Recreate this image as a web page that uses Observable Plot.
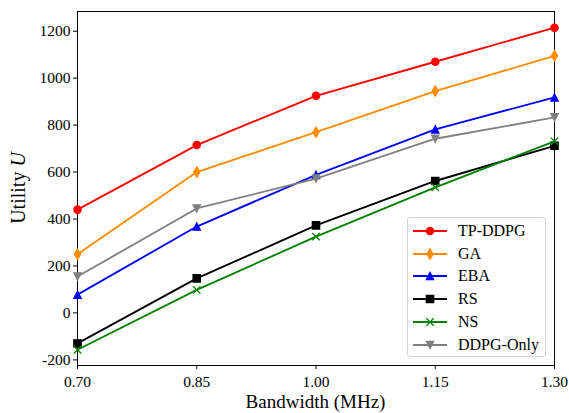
<!DOCTYPE html>
<html>
<head>
<meta charset="utf-8">
<script src="https://cdn.jsdelivr.net/npm/d3@7"></script>
<script src="https://cdn.jsdelivr.net/npm/@observablehq/plot@0.6"></script>
<style>
  body { margin: 0; background: #fff; }
  #wrap { position: relative; width: 569px; height: 413px; font-family: 'Liberation Serif', 'DejaVu Serif', serif; }
  #wrap svg text { font-family: 'Liberation Serif', 'DejaVu Serif', serif; }
  #legend { position: absolute; left: 407px; top: 217px; width: 137px; height: 138px;
            border: 1px solid #d3d3d3; border-radius: 3px; background: rgba(255,255,255,0.8); }
  .row { position: absolute; left: 0; height: 22px; width: 137px; }
  .row svg { position: absolute; left: 0; top: 0; }
  .row span { position: absolute; left: 50px; top: 1px; font-family: 'Liberation Serif', 'DejaVu Serif', serif; font-size: 16px; line-height: 20px; color: #000; white-space: nowrap; }
</style>
</head>
<body>
<div id="wrap"></div>
<script>
// ---- data ----
const bandwidth = [0.70, 0.85, 1.00, 1.15, 1.30];
const seriesNames = ["TP-DDPG", "GA", "EBA", "RS", "NS", "DDPG-Only"];
const seriesColors = ["#ff0000", "#ff8c00", "#0000ff", "#000000", "#008000", "#808080"];
const tpddpg   = [440, 715, 925, 1070, 1215];
const ga       = [250, 600, 770, 945, 1095];
const eba      = [78, 368, 588, 782, 918];
const rs       = [-130, 147, 373, 562, 712];
const ns       = [-157, 98, 325, 535, 731];
const ddpgOnly = [155, 445, 572, 742, 833];
const xTicks = [0.70, 0.85, 1.00, 1.15, 1.30];
const yTicks = [-200, 0, 200, 400, 600, 800, 1000, 1200];

const seriesValues = [tpddpg, ga, eba, rs, ns, ddpgOnly];
const rows = seriesNames.flatMap((name, i) =>
  bandwidth.map((b, j) => ({ series: name, bw: b, u: seriesValues[i][j] })));

// ---- marker shapes (matplotlib-like) ----
function poly(pts) {
  return { draw(ctx, size) {
    const u = Math.sqrt(size / Math.PI);
    ctx.moveTo(pts[0][0] * u, pts[0][1] * u);
    for (let k = 1; k < pts.length; k++) ctx.lineTo(pts[k][0] * u, pts[k][1] * u);
    ctx.closePath();
  } };
}
const circleSym = { draw(ctx, size) { const u = Math.sqrt(size / Math.PI); ctx.moveTo(u, 0); ctx.arc(0, 0, u, 0, 2 * Math.PI); } };
const thinDiamond = poly([[0, -1.41], [0.85, 0], [0, 1.41], [-0.85, 0]]);
const triUp = poly([[0, -1], [-1, 1], [1, 1]]);
const squareSym = poly([[-1, -1], [1, -1], [1, 1], [-1, 1]]);
const crossSym = { draw(ctx, size) { const u = Math.sqrt(size / Math.PI);
  ctx.moveTo(-u, -u); ctx.lineTo(u, u); ctx.moveTo(u, -u); ctx.lineTo(-u, u); } };
const triDown = poly([[0, 1], [-1, -1], [1, -1]]);
const seriesSymbols = [circleSym, thinDiamond, triUp, squareSym, crossSym, triDown];
const hollow = [false, false, false, false, true, false];

const R = 3.7;
const seriesMarks = seriesNames.flatMap((name, i) => [
  Plot.line(rows, { filter: d => d.series === name, x: "bw", y: "u", stroke: seriesColors[i], strokeWidth: 1.85 }),
  Plot.dot(rows, { filter: d => d.series === name, x: "bw", y: "u", symbol: seriesSymbols[i], r: R,
    fill: hollow[i] ? "none" : seriesColors[i], stroke: seriesColors[i], strokeWidth: hollow[i] ? 1.3 : 1.2 })
]);

const chart = Plot.plot({
  width: 569, height: 413,
  marginLeft: 77, marginRight: 15, marginTop: 11, marginBottom: 48,
  style: { fontFamily: "'Liberation Serif', 'DejaVu Serif', serif", fontSize: "15.5px", color: "#000", background: "transparent" },
  x: { domain: [0.70, 1.30] },
  y: { domain: [-224, 1284] },
  marks: [
    Plot.axisX({ ticks: xTicks, tickFormat: d => d.toFixed(2), tickSize: 4, tickPadding: 6, label: null }),
    Plot.axisY({ ticks: yTicks, tickFormat: d => String(d), tickSize: 4, tickPadding: 3, label: null }),
    Plot.frame({ stroke: "#000", strokeWidth: 1 }),
    ...seriesMarks
  ]
});
document.getElementById("wrap").appendChild(chart);

// axis labels
const xr = chart.scale("x").range, yr = chart.scale("y").range;
const svg = d3.select(chart);
svg.append("text")
  .attr("x", (xr[0] + xr[1]) / 2).attr("y", 408)
  .attr("text-anchor", "middle").style("font-size", "19px").attr("fill", "#000")
  .text("Bandwidth (MHz)");
const yl = svg.append("text")
  .attr("transform", `translate(25,${(yr[0] + yr[1]) / 2}) rotate(-90)`)
  .attr("text-anchor", "middle").style("font-size", "20px").attr("fill", "#000");
yl.append("tspan").text("Utility ");
yl.append("tspan").style("font-style", "italic").text("U");

// legend (HTML overlay)
const legend = d3.select("#wrap").append("div").attr("id", "legend");
seriesNames.forEach((name, i) => {
  const row = legend.append("div").attr("class", "row").style("top", (2 + i * 22.7) + "px");
  const s = row.append("svg").attr("width", 50).attr("height", 22);
  s.append("line").attr("x1", 5).attr("x2", 39).attr("y1", 11).attr("y2", 11)
    .attr("stroke", seriesColors[i]).attr("stroke-width", 1.85);
  s.append("path").attr("transform", "translate(22,11)")
    .attr("d", d3.symbol(seriesSymbols[i], Math.PI * R * R)())
    .attr("fill", hollow[i] ? "none" : seriesColors[i])
    .attr("stroke", seriesColors[i]).attr("stroke-width", hollow[i] ? 1.3 : 1.2);
  row.append("span").text(name);
});
</script>
</body>
</html>
